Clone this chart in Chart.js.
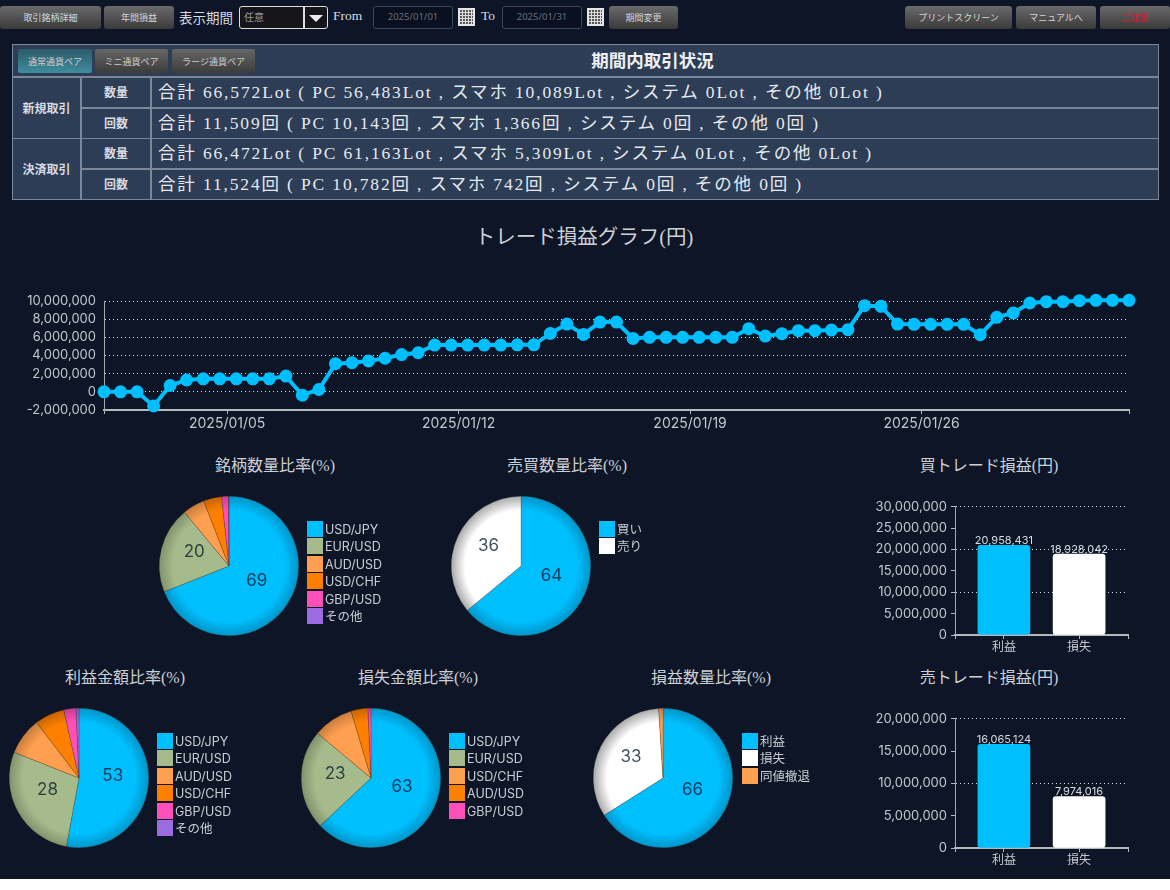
<!DOCTYPE html>
<html lang="ja">
<head>
<meta charset="utf-8">
<title>期間内取引状況</title>
<script src="https://cdn.jsdelivr.net/npm/chart.js@4"></script>
<style>
html { margin: 0; background: #ffffff; }
body { margin: 0; position: relative; width: 1170px; height: 879px; overflow: hidden; background: #0d1526; color: #d8dce2; font-family: "Liberation Serif", "Noto Sans CJK JP", serif; }
.box { position: absolute; }
.btn { position: absolute; top: 6px; height: 23px; border-radius: 3px; background: linear-gradient(#6a6a6a, #3a3a3a); color: #d5d5d5; font: 9px "Noto Sans CJK JP", sans-serif; text-align: center; line-height: 24px; box-sizing: border-box; }
.serif { position: absolute; font-size: 15px; }
.date { position: absolute; top: 6px; width: 80px; height: 23px; box-sizing: border-box; background: #0a1020; border: 1px solid #3b4658; border-radius: 3px; font: 9.5px "Noto Sans", sans-serif; color: #666d78; line-height: 20px; text-align: center; }
.cal { position: absolute; top: 8px; width: 17px; height: 18px; box-sizing: border-box; border: 2px solid #e6e6e6; background: repeating-linear-gradient(90deg, transparent 0 2px, #ddd 2px 3px), repeating-linear-gradient(0deg, #555 0 2px, #ddd 2px 3px); }
.cell { position: absolute; box-sizing: border-box; background: #2c3d55; border: 1px solid #7b8799; }
.hd { font: bold 12px/1 "Noto Sans CJK JP", sans-serif; text-align: center; }
.row { font-size: 17.5px; letter-spacing: 1.85px; white-space: nowrap; padding-left: 6px; line-height: 28px; color: #e6e9ee; }
.tab { position: absolute; top: 49px; height: 24px; border-radius: 2px; background: linear-gradient(#666, #3c3c3c); color: #ccc; font: 9px/25px "Noto Sans CJK JP", sans-serif; text-align: center; }
.title { position: absolute; text-align: center; color: #cdd1d6; font-size: 16px; white-space: nowrap; }
.legend { position: absolute; font: 12.5px/17.4px "Inter", "Noto Sans CJK JP", sans-serif; color: #c9cdd3; white-space: nowrap; }
.legend i { display: inline-block; width: 16px; height: 16px; margin-right: 2px; vertical-align: -3px; }
canvas { position: absolute; }
</style>
</head>
<body>
<div class="btn" style="left:0;width:101px">取引銘柄詳細</div>
<div class="btn" style="left:104px;width:70px">年間損益</div>
<div class="serif" style="left:179px;top:7px;font-size:13.5px">表示期間</div>
<div class="box" style="left:239px;top:6px;width:89px;height:23px;box-sizing:border-box;background:#16161a;border:1px solid #ddd;border-radius:3px;font:10px/20px 'Noto Sans CJK JP';padding-left:4px;color:#999">任意
  <span style="position:absolute;left:63px;top:0;height:21px;border-left:2px solid #ddd"></span>
  <span style="position:absolute;left:69px;top:8px;border:7px solid transparent;border-top:7px solid #eee;border-bottom:0"></span></div>
<div class="serif" style="left:333px;top:8px;font-size:13.5px">From</div>
<div class="date" style="left:373px">2025/01/01</div>
<div class="cal" style="left:458px"></div>
<div class="serif" style="left:481px;top:8px;font-size:13.5px">To</div>
<div class="date" style="left:502px">2025/01/31</div>
<div class="cal" style="left:587px"></div>
<div class="btn" style="left:609px;width:69px">期間変更</div>
<div class="btn" style="left:905px;width:107px">プリントスクリーン</div>
<div class="btn" style="left:1016px;width:80px">マニュアルへ</div>
<div class="btn" style="left:1100px;width:70px;color:#e0102a">ご注意</div>

<div class="cell" style="left:12px;top:44px;width:1147px;height:33px"></div>
<div class="tab" style="left:18px;width:74px;background:linear-gradient(#2d5a68,#3f8d9e)">通常通貨ペア</div>
<div class="tab" style="left:95px;width:73px">ミニ通貨ペア</div>
<div class="tab" style="left:172px;width:83px">ラージ通貨ペア</div>
<div class="title" style="left:500px;width:305px;top:47px;font-size:17.5px;font-weight:bold;color:#eef0f3">期間内取引状況</div>
<div id="summary"></div>

<div class="title" style="left:384px;width:400px;top:220px;font-size:20.5px">トレード損益グラフ(円)</div>
<canvas id="chart-line" style="left:0;top:285px"></canvas>

<div class="title" style="left:135px;width:280px;top:452px">銘柄数量比率(%)</div>
<div class="title" style="left:427px;width:280px;top:452px">売買数量比率(%)</div>
<div class="title" style="left:849px;width:280px;top:452px">買トレード損益(円)</div>
<div class="title" style="left:-15px;width:280px;top:664px">利益金額比率(%)</div>
<div class="title" style="left:278px;width:280px;top:664px">損失金額比率(%)</div>
<div class="title" style="left:571px;width:280px;top:664px">損益数量比率(%)</div>
<div class="title" style="left:849px;width:280px;top:664px">売トレード損益(円)</div>

<canvas id="pie-meigara" style="left:149px;top:486px"></canvas>
<canvas id="pie-baibai" style="left:441px;top:486px"></canvas>
<canvas id="pie-rieki" style="left:-1px;top:698px"></canvas>
<canvas id="pie-sonshitsu" style="left:291px;top:698px"></canvas>
<canvas id="pie-suryo" style="left:583px;top:698px"></canvas>
<canvas id="bar-buy" style="left:840px;top:495px"></canvas>
<canvas id="bar-sell" style="left:840px;top:707px"></canvas>

<script>
// === Données ===
const summaryGroups = ['新規取引', '決済取引'];
const summaryKinds = ['数量', '回数'];
const summaryRows = [
    '合計 66,572Lot ( PC 56,483Lot , スマホ 10,089Lot , システム 0Lot , その他 0Lot )',
    '合計 11,509回 ( PC 10,143回 , スマホ 1,366回 , システム 0回 , その他 0回 )',
    '合計 66,472Lot ( PC 61,163Lot , スマホ 5,309Lot , システム 0Lot , その他 0Lot )',
    '合計 11,524回 ( PC 10,782回 , スマホ 742回 , システム 0回 , その他 0回 )'
];

const tradeProfit = [
    0, 0, 0, -1.55, 0.7, 1.3, 1.43, 1.43, 1.43, 1.43, 1.43, 1.73, -0.37, 0.26, 3.1, 3.2,
    3.4, 3.7, 4.1, 4.3, 5.15, 5.15, 5.15, 5.15, 5.15, 5.18, 5.18, 6.43, 7.46, 6.32, 7.68, 7.68,
    5.88, 6.0, 6.0, 6.0, 6.0, 6.0, 6.0, 6.95, 6.14, 6.4, 6.73, 6.73, 6.8, 6.84, 9.49, 9.41,
    7.46, 7.43, 7.43, 7.43, 7.43, 6.29, 8.2, 8.68, 9.78, 9.93, 9.93, 10.04, 10.07, 10.07, 10.07
].map(v => v * 1000000);
const dateTicks = [7.45, 21.45, 35.45, 49.45];
const dateLabels = ['2025/01/05', '2025/01/12', '2025/01/19', '2025/01/26'];

const pairs1 = ['USD/JPY', 'EUR/USD', 'AUD/USD', 'USD/CHF', 'GBP/USD', 'その他'];
const pairs2 = ['USD/JPY', 'EUR/USD', 'USD/CHF', 'AUD/USD', 'GBP/USD'];
const buySell = ['買い', '売り'];
const winLoss = ['利益', '損失', '同値撤退'];
const meigaraValues = [69, 20, 5.1, 4.2, 1.6, 0.1];
const baibaiValues = [64, 36];
const riekiValues = [52.9, 28.1, 8.6, 6.9, 2.8, 0.7];
const sonshitsuValues = [63, 23.1, 9.3, 3.9, 0.7];
const suryoValues = [66, 33, 1];

const barLabels = ['利益', '損失'];
const buyTrade = [20958431, 18928042];
const sellTrade = [16065124, 7974016];

const BLUE = '#00bfff', GREEN = '#a6bb8b', LIGHT = '#ff9f4f', ORANGE = '#ff8000', PINK = '#ff4fb8', PURPLE = '#9b6be0', WHITE = '#ffffff';
const pairColors = [BLUE, GREEN, LIGHT, ORANGE, PINK, PURPLE];
const SANS = '"Inter", "Noto Sans CJK JP", sans-serif';
const fmt = v => Number(v).toLocaleString('en-US');

// === Tableau ===
const summary = document.getElementById('summary');
const rowTops = [77, 107.5, 138, 169];
let html = '';
summaryGroups.forEach((g, i) => {
    html += `<div class="cell hd" style="left:12px;top:${rowTops[i * 2]}px;width:69px;height:61.5px;line-height:60px">${g}</div>`;
});
summaryRows.forEach((r, i) => {
    html += `<div class="cell hd" style="left:81px;top:${rowTops[i]}px;width:70px;height:31px;line-height:28px">${summaryKinds[i % 2]}</div>`;
    html += `<div class="cell row" style="left:151px;top:${rowTops[i]}px;width:1008px;height:31px">${r}</div>`;
});
summary.innerHTML = html;

Chart.defaults.animation = false;
Chart.defaults.responsive = false;
Chart.defaults.font.family = SANS;
Chart.defaults.color = '#c4c8ce';
Chart.defaults.plugins.legend.display = false;
Chart.defaults.plugins.tooltip.enabled = false;

function sizeCanvas(id, w, h) {
    const c = document.getElementById(id);
    c.width = w; c.height = h;
    c.style.width = w + 'px'; c.style.height = h + 'px';
    return c;
}

// === Graphique linéaire ===
new Chart(sizeCanvas('chart-line', 1170, 150), {
    type: 'line',
    data: {
        datasets: [{
            data: tradeProfit.map((v, i) => ({ x: i, y: v })),
            borderColor: BLUE,
            backgroundColor: BLUE,
            borderWidth: 4,
            pointRadius: 4.5,
            tension: 0,
            clip: false
        }]
    },
    options: {
        layout: { padding: { top: 16, right: 41 } },
        scales: {
            x: {
                type: 'linear', min: 0, max: 62,
                afterBuildTicks: s => { s.ticks = [0, ...dateTicks, 62].map(v => ({ value: v })); },
                ticks: {
                    autoSkip: false, maxRotation: 0, font: { size: 14 }, padding: 1,
                    callback: v => { const k = dateTicks.indexOf(v); return k >= 0 ? dateLabels[k] : ''; }
                },
                grid: { drawOnChartArea: false, drawTicks: true, tickLength: 4, tickColor: '#b5b8bd' },
                border: { color: '#b5b8bd', width: 2 },
                afterFit: s => { s.height = 25; }
            },
            y: {
                min: -2000000, max: 10000000,
                ticks: { stepSize: 2000000, autoSkip: false, font: { size: 13 }, callback: fmt, padding: 8 },
                grid: { color: '#d5d8dc', drawTicks: false, lineWidth: 1 },
                border: { color: '#a5a8ad', width: 1, dash: [1, 3] },
                afterFit: s => { s.width = 104; }
            }
        }
    }
});

// === Camemberts ===
const pieLabelPlugin = {
    id: 'pieLabels',
    afterDatasetsDraw(chart) {
        const ctx = chart.ctx;
        const values = chart.data.datasets[0].data;
        ctx.save();
        ctx.font = '17px ' + SANS;
        ctx.textAlign = 'center';
        ctx.textBaseline = 'middle';
        chart.getDatasetMeta(0).data.forEach((arc, i) => {
            if (values[i] < 15) return;
            const p = arc.tooltipPosition();
            ctx.fillStyle = 'rgba(0,20,40,0.75)';
            ctx.fillText(Math.round(values[i]), p.x - 1, p.y - 5);
        });
        ctx.restore();
    }
};

function darken(hex) {
    const n = parseInt(hex.slice(1), 16);
    const k = hex === WHITE ? 0.66 : 0.78;
    return `rgb(${Math.round((n >> 16) * k)},${Math.round(((n >> 8) & 255) * k)},${Math.round((n & 255) * k)})`;
}

function pie(id, labels, values, colors, left, top) {
    new Chart(sizeCanvas(id, 160, 160), {
        type: 'pie',
        data: {
            labels: labels,
            datasets: [{
                data: values,
                backgroundColor: ctx => {
                    const color = colors[ctx.dataIndex];
                    const area = ctx.chart.chartArea;
                    if (!area) return color;
                    const cx = (area.left + area.right) / 2, cy = (area.top + area.bottom) / 2;
                    const r = Math.min(area.width, area.height) / 2;
                    const g = ctx.chart.ctx.createRadialGradient(cx, cy, r * 0.8, cx, cy, r);
                    g.addColorStop(0, color);
                    g.addColorStop(1, darken(color));
                    return g;
                },
                borderWidth: 0.5,
                borderColor: 'rgba(60,60,40,0.5)'
            }]
        },
        options: { layout: { padding: 10 } },
        plugins: [pieLabelPlugin]
    });
    const legend = document.createElement('div');
    legend.className = 'legend';
    legend.style.left = left + 'px';
    legend.style.top = top + 'px';
    legend.innerHTML = labels.map((l, i) => `<div><i style="background:${colors[i]}"></i>${l}</div>`).join('');
    document.body.appendChild(legend);
}

pie('pie-meigara', pairs1, meigaraValues, pairColors, 307, 521);
pie('pie-baibai', buySell, baibaiValues, [BLUE, WHITE], 599, 521);
pie('pie-rieki', pairs1, riekiValues, pairColors, 157, 733);
pie('pie-sonshitsu', pairs2, sonshitsuValues, pairColors, 449, 733);
pie('pie-suryo', winLoss, suryoValues, [BLUE, WHITE, LIGHT], 742, 733);

// === Barres ===
const barValuePlugin = {
    id: 'barValues',
    afterDatasetsDraw(chart) {
        const ctx = chart.ctx;
        ctx.save();
        ctx.font = '11px ' + SANS;
        ctx.fillStyle = '#d8dce2';
        ctx.textAlign = 'center';
        ctx.textBaseline = 'bottom';
        chart.getDatasetMeta(0).data.forEach((bar, i) => {
            ctx.fillText(fmt(chart.data.datasets[0].data[i].y), bar.x, bar.y + 1);
        });
        ctx.restore();
    }
};

function bar(id, values, max, canvasH, padTop) {
    new Chart(sizeCanvas(id, 330, canvasH), {
        type: 'bar',
        data: {
            datasets: [{
                data: values.map((v, i) => ({ x: i, y: v })),
                backgroundColor: [BLUE, WHITE],
                borderRadius: 3,
                borderSkipped: false,
                barThickness: 52
            }]
        },
        options: {
            layout: { padding: { top: padTop, right: 42 } },
            scales: {
                x: {
                    type: 'linear', min: -0.65, max: 1.65, offset: false,
                    afterBuildTicks: s => { s.ticks = [-0.65, 0, 1, 1.65].map(v => ({ value: v })); },
                    ticks: {
                        autoSkip: false, maxRotation: 0, font: { size: 12 }, padding: 1,
                        callback: v => (barLabels[v] === undefined ? '' : barLabels[v])
                    },
                    grid: { offset: false, drawOnChartArea: false, drawTicks: true, tickLength: 4, tickColor: '#b5b8bd' },
                    border: { color: '#b5b8bd', width: 2 },
                    afterFit: s => { s.height = 23; }
                },
                y: {
                    min: 0, max: max,
                    ticks: { stepSize: 5000000, autoSkip: false, font: { size: 13 }, callback: fmt, padding: 4 },
                    grid: {
                        drawTicks: true, tickLength: 4, tickColor: '#b5b8bd',
                        color: c => (c.tick.value % 10000000 === 0 && c.tick.value !== 0 ? '#d5d8dc' : 'transparent')
                    },
                    border: { color: '#a5a8ad', width: 1, dash: [1, 3] },
                    afterFit: s => { s.width = 115; }
                }
            }
        },
        plugins: [barValuePlugin]
    });
}

bar('bar-buy', buyTrade, 30000000, 163, 4);
bar('bar-sell', sellTrade, 20000000, 164, 5);
</script>
</body>
</html>
